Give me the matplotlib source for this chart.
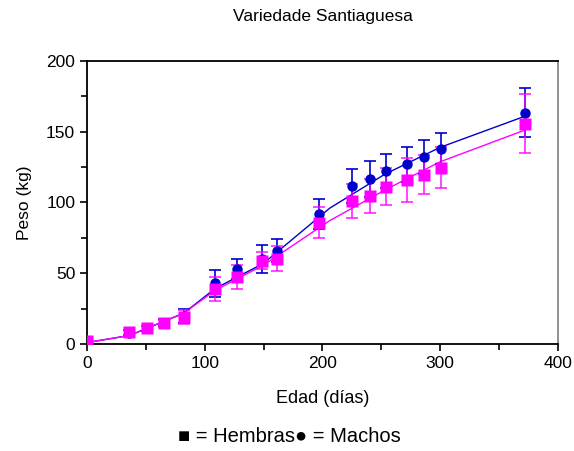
import numpy as np
import matplotlib
matplotlib.use('Agg')
import matplotlib.pyplot as plt
from matplotlib.ticker import MultipleLocator

plt.rcParams['font.family'] = ['Liberation Sans', 'DejaVu Sans']

# Edad (dias) de cada pesada
edad = [0, 36, 51, 65, 82, 109, 127, 149, 161, 197, 225, 240, 254, 272, 286, 301, 372]

# Machos
peso_m = [2, 8, 11, 15, 20, 43, 53, 60, 66, 92, 111.5, 116.5, 122, 127, 132, 138, 163.5]
err_m = [1, 2, 2, 2.5, 5, 9.5, 7, 10, 8, 10.5, 12, 12.5, 12, 12.5, 12, 11, 17.5]

# Hembras
peso_h = [2.4, 8.2, 11, 14.6, 19.3, 39, 47.6, 59, 60.3, 85.7, 101.3, 104.8, 111.2, 116.1, 119.7, 124.6, 155.7]
err_h = [1, 2, 2, 2.5, 5, 8.5, 8.5, 6, 9, 11, 12, 12, 13, 15.5, 14, 14.5, 21]

# Curvas ajustadas
ajuste_x = [0, 36, 82, 109, 150, 206, 253, 300, 372]
ajuste_m = [1, 6, 21.7, 39.3, 57, 95.9, 120, 139, 161]
ajuste_h = [1, 6, 21.7, 38, 55.8, 87.1, 108.8, 128.8, 151.2]

azul = '#0000cc'
magenta = '#ff00ff'

fig = plt.figure(figsize=(5.74, 4.51), dpi=100)
ax = fig.add_axes([0.1516, 0.2373, 0.8204, 0.6274])

ax.plot(ajuste_x, ajuste_m, color=azul, lw=1, zorder=2)
ax.plot(ajuste_x, ajuste_h, color=magenta, lw=1, zorder=2)

# barras de error debajo de los marcadores
ax.errorbar(edad, peso_m, yerr=err_m, fmt='none', ecolor=azul,
            elinewidth=1.2, capsize=4.5, capthick=1.2, zorder=3)
ax.errorbar(edad, peso_h, yerr=err_h, fmt='none', ecolor=magenta, alpha=0.85,
            elinewidth=1.2, capsize=4.5, capthick=1.2, zorder=4)
ax.plot(edad, peso_m, 'o', color=azul, ms=7.5, mec='none', zorder=5)
ax.plot(edad, peso_h, 's', color=magenta, ms=8, mec='none', zorder=6)

ax.set_xlim(0, 400)
ax.set_ylim(0, 200)
ax.xaxis.set_major_locator(MultipleLocator(100))
ax.xaxis.set_minor_locator(MultipleLocator(50))
ax.yaxis.set_major_locator(MultipleLocator(50))
ax.yaxis.set_minor_locator(MultipleLocator(25))
ax.tick_params(which='both', direction='out', width=1.2, labelsize=12.5)
ax.tick_params(which='major', length=5)
ax.tick_params(which='minor', length=4)
for s in ['left', 'bottom', 'top']:
    ax.spines[s].set_linewidth(1.3)
ax.spines['right'].set_color('#888888')
ax.spines['right'].set_linewidth(1.3)

ax.set_xlabel('Edad (días)', fontsize=13, labelpad=14)
ax.set_ylabel('Peso (kg)', fontsize=12.5, labelpad=10)
ax.set_title('Variedade Santiaguesa', fontsize=12.5, pad=29)

fig.text(0.505, 0.01, '■ = Hembras● = Machos', ha='center', va='bottom', fontsize=14.5,
         family=['Liberation Sans', 'DejaVu Sans'])

plt.savefig('out.png', dpi=100)
